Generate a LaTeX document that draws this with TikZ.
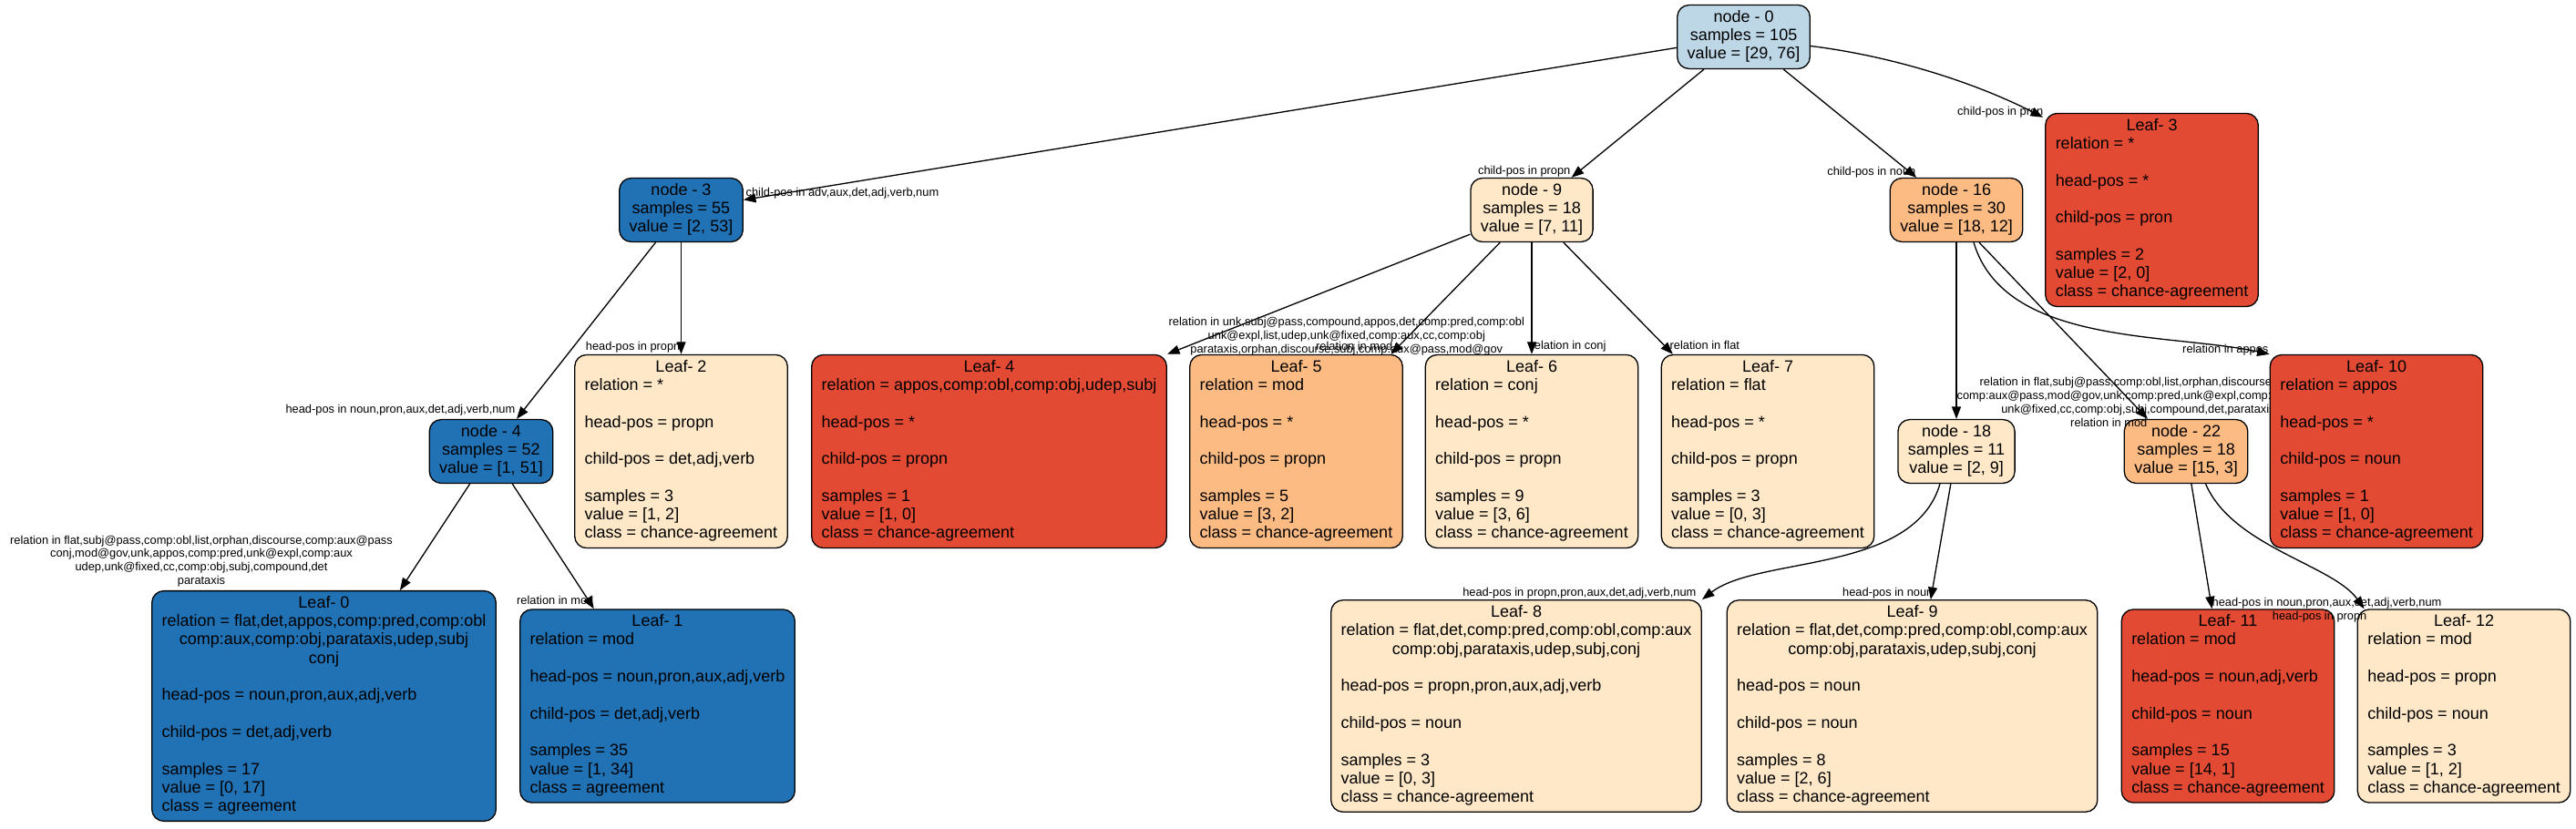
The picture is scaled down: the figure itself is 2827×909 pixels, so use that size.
\documentclass[tikz,border=0pt]{standalone}
\usepackage{fontspec}
\setmainfont{Liberation Sans}
\usetikzlibrary{arrows.meta}

\definecolor{bluepale}{HTML}{BDD7E7}
\definecolor{bluedeep}{HTML}{2171B5}
\definecolor{cream}{HTML}{FEE8C8}
\definecolor{peach}{HTML}{FDBB84}
\definecolor{brick}{HTML}{E34A33}

\newcommand{\ctrrow}[1]{\multicolumn{1}{@{}c@{}}{#1}}
\newcommand{\splitbox}[3]{\begin{tabular}{@{}c@{}}#1\\#2\\#3\end{tabular}}
\newcommand{\leafbox}[2]{\begin{tabular}{@{}l@{}}\ctrrow{#1}\\#2\end{tabular}}

\tikzset{
  treebox/.style={draw, rounded corners=2.6mm, font=\fontsize{10.24pt}{11.56pt}\selectfont, inner xsep=2.2mm, inner ysep=0.9mm},
  edgelbl/.style={font=\fontsize{7.3pt}{8.4pt}\selectfont, inner sep=0pt, align=center}
}

\begin{document}
\begin{tikzpicture}[x=0.2mm, y=-0.2mm, line width=0.75pt, >={Triangle[length=2.7mm,width=2mm]}]
\useasboundingbox (0,0) rectangle (2827,909);

% Root
\node[treebox, fill=bluepale] (n0) at (1913.5,40.5) {\splitbox{node - 0}{samples = 105}{value = [29, 76]}};

% Left branch
\node[treebox, fill=bluedeep] (n3) at (747.5,230.5) {\splitbox{node - 3}{samples = 55}{value = [2, 53]}};
\draw[->] (n0) -- (n3);
\node[edgelbl, anchor=west] (t3) at (818,212) {child-pos in adv,aux,det,adj,verb,num};

\node[treebox, fill=bluedeep] (n4) at (539,495.5) {\splitbox{node - 4}{samples = 52}{value = [1, 51]}};
\draw[->] (n3) -- (n4);
\node[edgelbl, anchor=east] (t4) at (566,450) {head-pos in noun,pron,aux,det,adj,verb,num};

\node[treebox, fill=bluedeep] (L0) at (355.5,775) {\leafbox{Leaf- 0}{relation = flat,det,appos,comp:pred,comp:obl\\ \ctrrow{comp:aux,comp:obj,parataxis,udep,subj}\\ \ctrrow{conj}\\ \\ head-pos = noun,pron,aux,adj,verb\\ \\ child-pos = det,adj,verb\\ \\ samples = 17\\ value = [0, 17]\\ class = agreement}};
\draw[->] (n4) -- (L0);
\node[edgelbl] (tL0) at (221,616) {relation in flat,subj@pass,comp:obl,list,orphan,discourse,comp:aux@pass\\ conj,mod@gov,unk,appos,comp:pred,unk@expl,comp:aux\\ udep,unk@fixed,cc,comp:obj,subj,compound,det\\ parataxis};

\node[treebox, fill=bluedeep] (L1) at (721.5,775) {\leafbox{Leaf- 1}{relation = mod\\ \\ head-pos = noun,pron,aux,adj,verb\\ \\ child-pos = det,adj,verb\\ \\ samples = 35\\ value = [1, 34]\\ class = agreement}};
\draw[->] (n4) -- (L1);
\node[edgelbl, anchor=east] (tL1) at (652,659) {relation in mod};

\node[treebox, fill=cream] (L2) at (747.5,495.5) {\leafbox{Leaf- 2}{relation = *\\ \\ head-pos = propn\\ \\ child-pos = det,adj,verb\\ \\ samples = 3\\ value = [1, 2]\\ class = chance-agreement}};
\draw[->] (n3) -- (L2);
\node[edgelbl, anchor=east] (tL2) at (747,381) {head-pos in propn};

% Middle branch
\node[treebox, fill=cream] (n9) at (1681,230.5) {\splitbox{node - 9}{samples = 18}{value = [7, 11]}};
\draw[->] (n0) -- (n9);
\node[edgelbl, anchor=east] (t9) at (1724,188) {child-pos in propn};

\node[treebox, fill=brick] (L4) at (1085.5,495.5) {\leafbox{Leaf- 4}{relation = appos,comp:obl,comp:obj,udep,subj\\ \\ head-pos = *\\ \\ child-pos = propn\\ \\ samples = 1\\ value = [1, 0]\\ class = chance-agreement}};
\draw[->] (n9) -- (L4.north east);
\node[edgelbl, anchor=west] (tL4) at (1282,369) {relation in unk,subj@pass,compound,appos,det,comp:pred,comp:obl\\ unk@expl,list,udep,unk@fixed,comp:aux,cc,comp:obj\\ parataxis,orphan,discourse,subj,comp:aux@pass,mod@gov};

\node[treebox, fill=peach] (L5) at (1422.5,495.5) {\leafbox{Leaf- 5}{relation = mod\\ \\ head-pos = *\\ \\ child-pos = propn\\ \\ samples = 5\\ value = [3, 2]\\ class = chance-agreement}};
\draw[->] (n9) -- (L5);
\node[edgelbl, anchor=east] (tL5) at (1529,380) {relation in mod};

\node[treebox, fill=cream] (L6) at (1681,495.5) {\leafbox{Leaf- 6}{relation = conj\\ \\ head-pos = *\\ \\ child-pos = propn\\ \\ samples = 9\\ value = [3, 6]\\ class = chance-agreement}};
\draw[->] (n9) -- (L6);
\node[edgelbl, anchor=west] (tL6) at (1679,380) {relation in conj};

\node[treebox, fill=cream] (L7) at (1940,495.5) {\leafbox{Leaf- 7}{relation = flat\\ \\ head-pos = *\\ \\ child-pos = propn\\ \\ samples = 3\\ value = [0, 3]\\ class = chance-agreement}};
\draw[->] (n9) -- (L7);
\node[edgelbl, anchor=west] (tL7) at (1832,379) {relation in flat};

% Right branch
\node[treebox, fill=peach] (n16) at (2147,230.5) {\splitbox{node - 16}{samples = 30}{value = [18, 12]}};
\draw[->] (n0) -- (n16);
\node[edgelbl, anchor=east] (t16) at (2103,189) {child-pos in noun};

\node[treebox, fill=cream] (n18) at (2147,495.5) {\splitbox{node - 18}{samples = 11}{value = [2, 9]}};
\draw[->] (n16) -- (n18);
\node[edgelbl, anchor=west] (t18) at (2147,435) {relation in flat,subj@pass,comp:obl,list,orphan,discourse,conj\\ comp:aux@pass,mod@gov,unk,comp:pred,unk@expl,comp:aux,udep\\ unk@fixed,cc,comp:obj,subj,compound,det,parataxis};

\node[treebox, fill=cream] (L8) at (1664,775) {\leafbox{Leaf- 8}{relation = flat,det,comp:pred,comp:obl,comp:aux\\ \ctrrow{comp:obj,parataxis,udep,subj,conj}\\ \\ head-pos = propn,pron,aux,adj,verb\\ \\ child-pos = noun\\ \\ samples = 3\\ value = [0, 3]\\ class = chance-agreement}};
\draw[->] ([xshift=-3.6mm]n18.south) .. controls (2100,630) and (1930,610) .. (L8.north east);
\node[edgelbl, anchor=east] (tL8) at (1862,651) {head-pos in propn,pron,aux,det,adj,verb,num};

\node[treebox, fill=cream] (L9) at (2098.5,775) {\leafbox{Leaf- 9}{relation = flat,det,comp:pred,comp:obl,comp:aux\\ \ctrrow{comp:obj,parataxis,udep,subj,conj}\\ \\ head-pos = noun\\ \\ child-pos = noun\\ \\ samples = 8\\ value = [2, 6]\\ class = chance-agreement}};
\draw[->] (n18) -- (L9);
\node[edgelbl, anchor=east] (tL9) at (2122,651) {head-pos in noun};

\node[treebox, fill=peach] (n22) at (2399,495.5) {\splitbox{node - 22}{samples = 18}{value = [15, 3]}};
\draw[->] ([xshift=5mm]n16.south) -- ([xshift=-8.4mm]n22.north);
\node[edgelbl, anchor=east] (t22) at (2357,464) {relation in mod};

\node[treebox, fill=brick] (L11) at (2445,775) {\leafbox{Leaf- 11}{relation = mod\\ \\ head-pos = noun,adj,verb\\ \\ child-pos = noun\\ \\ samples = 15\\ value = [14, 1]\\ class = chance-agreement}};
\draw[->] (n22) -- (L11);
\node[edgelbl, anchor=west] (tL11) at (2427,662) {head-pos in noun,pron,aux,det,adj,verb,num};

\node[treebox, fill=cream] (L12) at (2704,775) {\leafbox{Leaf- 12}{relation = mod\\ \\ head-pos = propn\\ \\ child-pos = noun\\ \\ samples = 3\\ value = [1, 2]\\ class = chance-agreement}};
\draw[->] ([xshift=4.3mm]n22.south) .. controls (2450,600) and (2560,620) .. ([xshift=1.6mm]L12.north west);
\node[edgelbl, anchor=east] (tL12) at (2598,677) {head-pos in propn};

\node[treebox, fill=brick] (L10) at (2608,495.5) {\leafbox{Leaf- 10}{relation = appos\\ \\ head-pos = *\\ \\ child-pos = noun\\ \\ samples = 1\\ value = [1, 0]\\ class = chance-agreement}};
\draw[->] ([xshift=3.8mm]n16.south) .. controls (2200,380) and (2380,365) .. (L10.north west);
\node[edgelbl, anchor=east] (tL10) at (2490,384) {relation in appos};

\node[treebox, fill=brick] (L3) at (2361.5,230.5) {\leafbox{Leaf- 3}{relation = *\\ \\ head-pos = *\\ \\ child-pos = pron\\ \\ samples = 2\\ value = [2, 0]\\ class = chance-agreement}};
\draw[->] ([yshift=-2mm]n0.east) .. controls (2080,62) and (2170,92) .. ([xshift=-0.4mm,yshift=-1mm]L3.north west);
\node[edgelbl, anchor=east] (tL3) at (2243,123) {child-pos in pron};
\end{tikzpicture}
\end{document}
